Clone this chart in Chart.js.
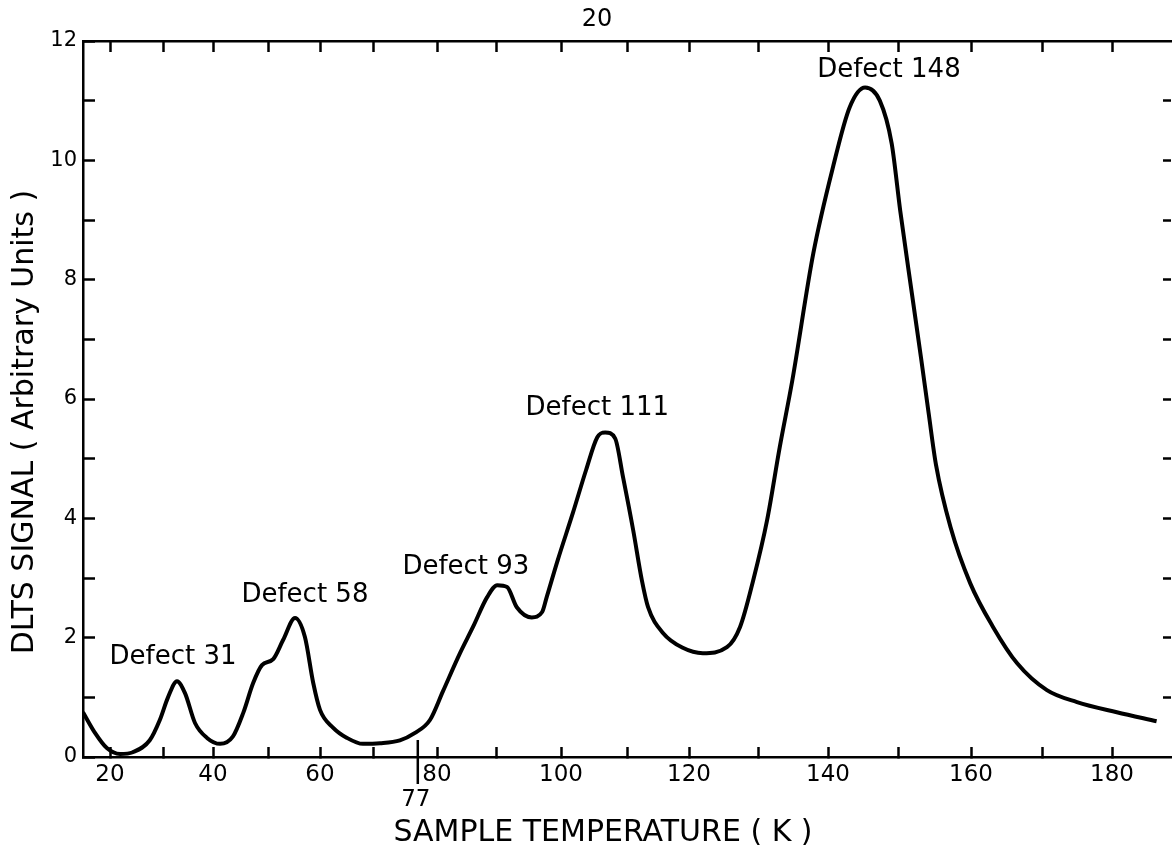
<!DOCTYPE html>
<html>
<head>
<meta charset="utf-8">
<title>DLTS spectrum</title>
<script src="https://cdn.jsdelivr.net/npm/chart.js@4.4.0/dist/chart.umd.min.js"></script>
<style>
  html, body { margin: 0; padding: 0; background: #fff; overflow: hidden; }
  #wrap { width: 1172px; height: 853px; position: relative; }
</style>
</head>
<body>
<div id="wrap"><canvas id="dltsChart"></canvas></div>
<script>
// curve (temperature in K, signal in arbitrary units)
const tempK = [14.9, 17.2, 19.4, 21.9, 24.3, 27.5, 29.4, 31.0, 32.8, 34.4,
  36.4, 38.8, 41.3, 43.6, 45.5, 47.3, 48.9, 51.0, 52.9, 55.2,
  57.1, 58.7, 60.0, 62.5, 65.1, 68.1, 71.1, 74.2, 76.5, 78.9,
  81.0, 83.9, 86.1, 88.5, 90.2, 91.7, 93.2, 95.5, 97.1, 97.8,
  99.5, 101.8, 103.8, 105.5, 106.7, 108.2, 109.4, 111.0, 112.4, 113.4,
  115.8, 119.0, 122.0, 125.5, 127.4, 129.3, 131.3, 133.1, 134.9, 137.9,
  140.7, 143.1, 145.3, 147.4, 149.1, 150.3, 151.9, 153.2, 154.2, 155.2,
  157.2, 159.9, 163.1, 166.5, 170.7, 175.0, 180.7, 186.5];
const signal = [0.75, 0.40, 0.15, 0.05, 0.08, 0.28, 0.62, 1.00, 1.27, 1.07,
  0.57, 0.32, 0.22, 0.34, 0.74, 1.24, 1.54, 1.64, 1.96, 2.33,
  2.01, 1.24, 0.79, 0.49, 0.32, 0.22, 0.23, 0.28, 0.40, 0.62,
  1.10, 1.74, 2.18, 2.68, 2.88, 2.85, 2.51, 2.34, 2.43, 2.68,
  3.30, 4.09, 4.81, 5.36, 5.44, 5.34, 4.69, 3.80, 2.96, 2.51,
  2.08, 1.83, 1.74, 1.84, 2.18, 2.96, 3.97, 5.19, 6.31, 8.44,
  9.88, 10.89, 11.22, 11.0, 10.28, 9.16, 7.77, 6.65, 5.76, 4.90,
  3.85, 2.91, 2.18, 1.57, 1.12, 0.92, 0.75, 0.60];

// peak labels
const defectNames = ['Defect 31', 'Defect 58', 'Defect 93', 'Defect 111', 'Defect 148'];
const defectLabelT = [32.0, 57.1, 84.9, 105.5, 148.7];
const defectLabelY = [1.68, 2.71, 3.18, 5.85, 11.51];

// ticks
const xTicks = [20, 30, 40, 50, 60, 70, 80, 90, 100, 110, 120, 130, 140, 150, 160, 170, 180];
const xTickLabels = [20, 40, 60, 80, 100, 120, 140, 160, 180];
const yTicks = [0, 1, 2, 3, 4, 5, 6, 7, 8, 9, 10, 11, 12];
const yTickLabels = [0, 2, 4, 6, 8, 10, 12];
const rightTicks = [1, 2, 3, 4, 5, 6, 7, 8, 9, 10, 11];
const markTemp = 77;

// the temperature axis of the original is not linear (thermocouple scale),
// calibration: temperature -> relative position along the axis
const calT = [14.9, 20, 30, 40, 50, 60, 70, 80, 90, 100, 110, 120, 130, 140, 150, 160, 170, 180, 188.6];
const calPos = [0, 27, 80, 130, 185, 237, 290, 354, 413, 478, 544, 606, 675, 745, 815, 888, 959, 1029, 1088];

function warp(v) {
  const last = calPos[calPos.length - 1];
  for (let i = 1; i < calT.length; i++) {
    if (v <= calT[i] || i === calT.length - 1) {
      const t = (v - calT[i - 1]) / (calT[i] - calT[i - 1]);
      return (calPos[i - 1] + t * (calPos[i] - calPos[i - 1])) / last;
    }
  }
}
function unwarp(d) {
  const last = calPos[calPos.length - 1];
  const p = d * last;
  for (let i = 1; i < calPos.length; i++) {
    if (p <= calPos[i] || i === calPos.length - 1) {
      const t = (p - calPos[i - 1]) / (calPos[i] - calPos[i - 1]);
      return calT[i - 1] + t * (calT[i] - calT[i - 1]);
    }
  }
}

class WarpScale extends Chart.LinearScale {
  getPixelForValue(value) {
    return this.getPixelForDecimal(warp(value));
  }
  getValueForPixel(pixel) {
    return unwarp(this.getDecimalForPixel(pixel));
  }
}
WarpScale.id = 'warp';
WarpScale.defaults = Chart.LinearScale.defaults;
Chart.register(WarpScale);

const FONT = '"DejaVu Sans", sans-serif';

const extras = {
  id: 'extras',
  afterDraw(chart) {
    const ctx = chart.ctx;
    const x = chart.scales.x;
    const y = chart.scales.y;
    ctx.save();
    ctx.fillStyle = '#000';
    ctx.strokeStyle = '#000';
    ctx.textAlign = 'center';
    ctx.textBaseline = 'middle';

    ctx.font = '26px ' + FONT;
    defectNames.forEach((name, i) => {
      ctx.fillText(name, x.getPixelForValue(defectLabelT[i]), y.getPixelForValue(defectLabelY[i]));
    });

    // 77 K marker
    const mx = x.getPixelForValue(markTemp);
    const y0 = y.getPixelForValue(0);
    ctx.lineWidth = 2.5;
    ctx.beginPath();
    ctx.moveTo(mx, y0 - 17);
    ctx.lineTo(mx, y0 + 27);
    ctx.stroke();
    ctx.font = '23px ' + FONT;
    ctx.fillText(String(markTemp), mx - 2, y0 + 43);

    // page number
    ctx.font = '24px ' + FONT;
    ctx.fillText('20', 597, 20);

    // axis titles
    ctx.font = '30px ' + FONT;
    ctx.fillText('SAMPLE TEMPERATURE ( K )', 603, 833);
    ctx.translate(25, 422);
    ctx.rotate(-Math.PI / 2);
    ctx.fillText('DLTS SIGNAL ( Arbitrary Units )', 0, 0);
    ctx.restore();
  }
};

const pts = tempK.map((t, i) => ({ x: t, y: signal[i] }));

new Chart(document.getElementById('dltsChart'), {
  type: 'line',
  data: {
    datasets: [{
      data: pts,
      borderColor: '#000',
      borderWidth: 4,
      pointRadius: 0,
      fill: false,
      cubicInterpolationMode: 'monotone'
    }]
  },
  options: {
    responsive: true,
    maintainAspectRatio: false,
    animation: false,
    layout: { padding: 0 },
    plugins: { legend: { display: false }, tooltip: { enabled: false }, title: { display: false } },
    scales: {
      x: {
        type: 'warp',
        position: 'bottom',
        min: calT[0],
        max: calT[calT.length - 1],
        afterBuildTicks: s => { s.ticks = xTicks.map(v => ({ value: v })); },
        afterFit: s => { s.height = 96; },
        ticks: {
          autoSkip: false,
          maxRotation: 0,
          padding: 14,
          color: '#000',
          font: { family: FONT, size: 23 },
          callback: v => xTickLabels.includes(v) ? String(v) : ''
        },
        grid: { drawOnChartArea: false, tickLength: -10, tickWidth: 2.5, tickColor: '#000' },
        border: { display: true, color: '#000', width: 2.5 }
      },
      xTop: {
        type: 'warp',
        position: 'top',
        min: calT[0],
        max: calT[calT.length - 1],
        afterBuildTicks: s => { s.ticks = xTicks.map(v => ({ value: v })); },
        afterFit: s => { s.height = 41; },
        ticks: { display: false },
        grid: { drawOnChartArea: false, tickLength: -11, tickWidth: 2.5, tickColor: '#000' },
        border: { display: true, color: '#000', width: 2.5 }
      },
      y: {
        type: 'linear',
        position: 'left',
        min: 0,
        max: 12,
        afterBuildTicks: s => { s.ticks = yTicks.map(v => ({ value: v })); },
        afterFit: s => { s.width = 83; },
        ticks: {
          autoSkip: false,
          padding: 18,
          color: '#000',
          font: { family: FONT, size: 21 },
          callback: v => yTickLabels.includes(v) ? String(v) : ''
        },
        grid: { drawOnChartArea: false, tickLength: -12, tickWidth: 2.5, tickColor: '#000' },
        border: { display: true, color: '#000', width: 2.5 }
      },
      yRight: {
        type: 'linear',
        position: 'right',
        min: 0,
        max: 12,
        afterBuildTicks: s => { s.ticks = rightTicks.map(v => ({ value: v })); },
        afterFit: s => { s.width = 1; },
        ticks: { display: false },
        grid: { drawOnChartArea: false, tickLength: -8, tickWidth: 2.5, tickColor: '#000' },
        border: { display: false }
      }
    }
  },
  plugins: [extras]
});
</script>
</body>
</html>
